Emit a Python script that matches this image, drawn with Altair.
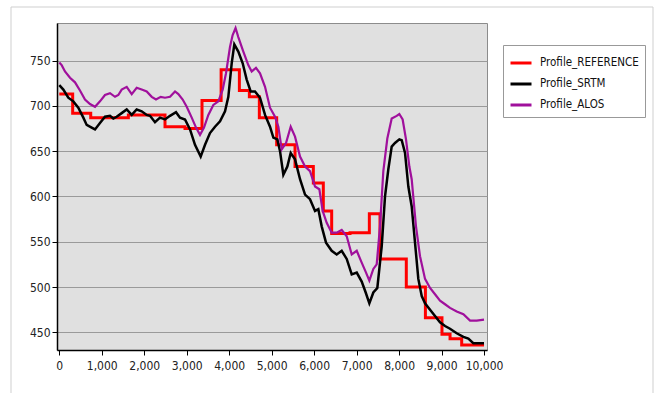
import altair as alt
import pandas as pd

# ---------------- data ----------------
series_names = ["Profile_REFERENCE", "Profile_SRTM", "Profile_ALOS"]
series_colors = ["#ff0000", "#000000", "#a0109c"]

ref_x = [0, 315, 740, 1626, 2489, 2960, 3360, 3810, 4240, 4475, 4710, 5118, 5550,
         5981, 6216, 6413, 6845, 7300, 7551, 8170, 8620, 9010, 9200, 9474, 10000]
ref_y = [713, 692, 687, 690, 677, 675, 706, 740, 717, 710, 687, 657, 633,
         615, 584, 559, 560, 581, 531, 500, 466, 448, 443, 436, 436]

srtm_x = [0, 95, 212, 330, 448, 566, 645, 762, 841, 958, 1076, 1194, 1272, 1351,
          1469, 1587, 1705, 1822, 1940, 2058, 2136, 2253, 2371, 2489, 2607, 2748,
          2842, 2960, 3078, 3195, 3329, 3431, 3548, 3666, 3784, 3902, 3980, 4059,
          4121, 4215, 4318, 4412, 4506, 4608, 4726, 4844, 4961, 5040, 5134, 5197,
          5275, 5369, 5448, 5550, 5668, 5786, 5903, 6021, 6099, 6178, 6280, 6413,
          6531, 6649, 6767, 6885, 7003, 7120, 7214, 7300, 7394, 7488, 7591, 7669,
          7747, 7826, 7904, 8006, 8062, 8140, 8218, 8297, 8375, 8453, 8533, 8611,
          8729, 8846, 8964, 9082, 9199, 9357, 9514, 9631, 9748, 10000]
srtm_y = [723, 718, 709, 705, 698, 687, 679, 676, 674, 681, 688, 689, 686, 688,
          692, 696, 690, 696, 694, 690, 689, 682, 687, 685, 689, 693,
          687, 685, 674, 657, 644, 657, 670, 677, 683, 694, 710, 747,
          768, 760, 747, 729, 716, 716, 709, 690, 677, 665, 663, 650,
          624, 633, 648, 641, 619, 602, 597, 584, 586, 567, 549, 540,
          536, 540, 531, 514, 516, 506, 494, 482, 494, 499, 545, 600,
          630, 655, 659, 663, 662, 648, 611, 589, 549, 509, 490, 482,
          475, 468, 461, 457, 454, 449, 445, 443, 438, 438]

alos_x = [0, 56, 134, 252, 370, 487, 605, 723, 841, 958, 1076, 1194, 1312, 1390,
          1469, 1587, 1705, 1822, 1940, 2058, 2176, 2277, 2388, 2489, 2607, 2725,
          2803, 2905, 3000, 3118, 3219, 3313, 3407, 3509, 3627, 3745, 3847, 3925,
          4019, 4080, 4150, 4215, 4333, 4450, 4530, 4631, 4726, 4844, 4961, 5079,
          5158, 5237, 5338, 5448, 5550, 5668, 5786, 5903, 6021, 6123, 6201, 6296,
          6413, 6531, 6649, 6767, 6885, 7003, 7120, 7222, 7300, 7394, 7473, 7551,
          7629, 7723, 7826, 7943, 8006, 8084, 8163, 8242, 8297, 8398, 8493, 8611,
          8729, 8846, 8964, 9082, 9199, 9357, 9514, 9671, 9828, 10000]
alos_y = [748, 745, 738, 731, 726, 717, 707, 702, 699, 705, 712, 714, 710, 712,
          718, 721, 713, 720, 718, 716, 710, 707, 710, 709, 710, 716,
          713, 707, 699, 687, 676, 668, 676, 690, 701, 705, 718, 736,
          765, 778, 786, 776, 760, 745, 738, 742, 736, 721, 698, 688,
          677, 652, 659, 677, 666, 644, 633, 628, 611, 608, 584, 571,
          560, 560, 563, 556, 536, 540, 527, 516, 507, 520, 525, 567,
          628, 664, 686, 689, 691, 685, 663, 633, 619, 567, 534, 509,
          499, 492, 485, 481, 477, 473, 470, 463, 463, 464]

x_ticks = list(range(0, 10001, 1000))
y_ticks = [450, 500, 550, 600, 650, 700, 750]

FONT = "'DejaVu Sans Condensed', 'Liberation Sans Narrow', sans-serif"

ref_df = pd.DataFrame({"dist": ref_x, "elev": ref_y, "series": series_names[0]})
srtm_df = pd.DataFrame({"dist": srtm_x, "elev": srtm_y, "series": series_names[1]})
alos_df = pd.DataFrame({"dist": alos_x, "elev": alos_y, "series": series_names[2]})

x_enc = alt.X("dist:Q",
              scale=alt.Scale(domain=[-54, 10070], nice=False, zero=False),
              axis=alt.Axis(values=x_ticks, format=",d", grid=False, title=None,
                            labelPadding=5))
y_enc = alt.Y("elev:Q",
              scale=alt.Scale(domain=[430.5, 791.5], nice=False, zero=False),
              axis=alt.Axis(values=y_ticks, grid=True, title=None, labelPadding=2))
color_enc = alt.Color("series:N",
                      scale=alt.Scale(domain=series_names, range=series_colors),
                      legend=alt.Legend(title=None, orient="none", legendX=446, legendY=22,
                                        strokeColor="#999999", fillColor="#ffffff",
                                        padding=6, symbolType="stroke", symbolSize=441,
                                        symbolStrokeWidth=3, labelFont=FONT,
                                        labelFontSize=11.5, labelColor="#111111",
                                        labelOffset=7, rowPadding=3))

frame = alt.Chart(pd.DataFrame({"a": [0]})).mark_rect(
    fillOpacity=0, stroke="#cfcfcf", strokeWidth=1
).encode(x=alt.value(-46), x2=alt.value(596), y=alt.value(-16), y2=alt.value(400))

ref_line = alt.Chart(ref_df).mark_line(interpolate="step-after", strokeWidth=3).encode(
    x=x_enc, y=y_enc, color=color_enc)
srtm_line = alt.Chart(srtm_df).mark_line(strokeWidth=2.5).encode(
    x=x_enc, y=y_enc, color=color_enc)
alos_line = alt.Chart(alos_df).mark_line(strokeWidth=2.2).encode(
    x=x_enc, y=y_enc, color=color_enc)

chart = alt.layer(frame, ref_line, srtm_line, alos_line).properties(
    width=430, height=327,
    autosize=alt.AutoSizeParams(type="none"),
    padding={"left": 57, "top": 23, "right": 170, "bottom": 43},
    background="#ffffff",
).configure_view(
    fill="#e0e0e0", stroke="#8c8c8c", strokeWidth=1
).configure_axis(
    labelFont=FONT, labelFontSize=12, labelColor="#222222",
    domainColor="#000000", domainWidth=1.5,
    tickColor="#000000", tickSize=5, tickWidth=1,
    gridColor="#9a9a9a", gridWidth=1.2,
)

chart.save("out.html", embed_options={"renderer": "svg", "actions": False})
